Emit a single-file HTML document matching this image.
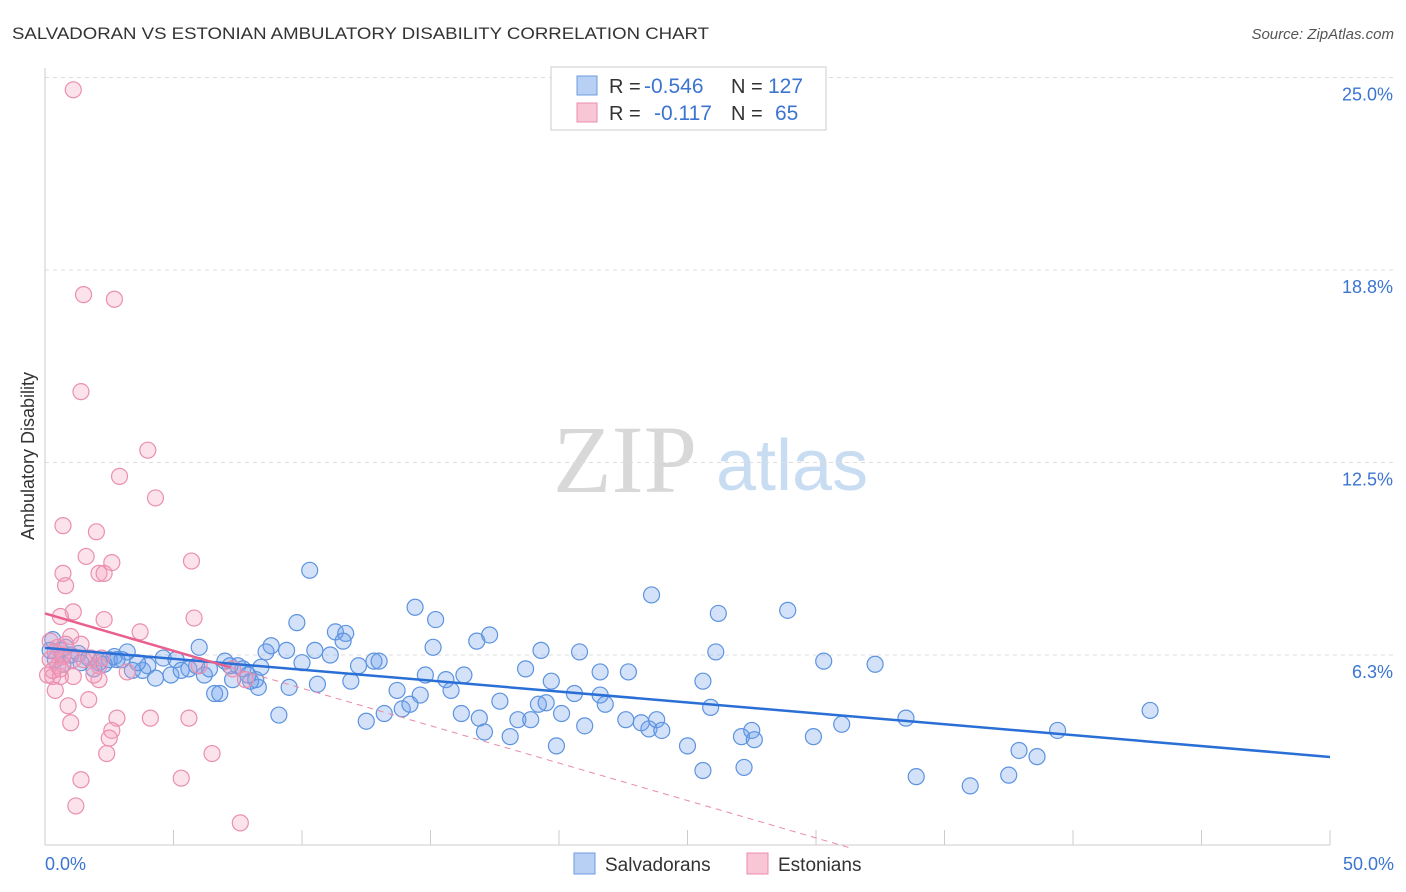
<!DOCTYPE html>
<html><head><meta charset="utf-8"><style>
body{margin:0;background:#fff;font-family:"Liberation Sans",sans-serif;}
svg{display:block}
</style></head><body>
<svg id="chart" width="1406" height="892" xmlns="http://www.w3.org/2000/svg">
<text x="12" y="39" font-size="17" fill="#333" textLength="697" lengthAdjust="spacingAndGlyphs">SALVADORAN VS ESTONIAN AMBULATORY DISABILITY CORRELATION CHART</text>
<text x="1394" y="39" font-size="15" fill="#555" text-anchor="end" font-style="italic">Source: ZipAtlas.com</text>
<g>
<text x="553" y="492" font-family="Liberation Serif,serif" font-size="96" fill="#d8d8d8">ZIP</text>
<text x="716" y="490" font-size="72" fill="#c8dcf2">atlas</text>
</g>
<g id="grid"></g>
<g id="axes"></g>
<g id="marks"></g>
<g>
<rect x="551" y="67" width="275" height="63" fill="#fff" stroke="#ccc"/>
<rect x="577" y="76" width="20" height="19" fill="#b7d0f3" stroke="#6d9be0"/>
<rect x="577" y="103" width="20" height="19" fill="#f9c6d6" stroke="#ec8eb0"/>
<text x="609" y="93" font-size="20" fill="#333">R =</text>
<text x="644" y="93" font-size="21" fill="#3b75d1">-0.546</text>
<text x="731" y="93" font-size="20" fill="#333">N =</text>
<text x="768" y="93" font-size="21" fill="#3b75d1">127</text>
<text x="609" y="120" font-size="20" fill="#333">R =</text>
<text x="654" y="120" font-size="21" fill="#3b75d1">-0.117</text>
<text x="731" y="120" font-size="20" fill="#333">N =</text>
<text x="775" y="120" font-size="21" fill="#3b75d1">65</text>
</g>
<g>
<rect x="574" y="853" width="21" height="21" fill="#b7d0f3" stroke="#6d9be0"/>
<text x="605" y="871" font-size="19" fill="#333">Salvadorans</text>
<rect x="747" y="853" width="21" height="21" fill="#f9c6d6" stroke="#ec8eb0"/>
<text x="778" y="871" font-size="19" fill="#333">Estonians</text>
</g>
<text transform="translate(34,456) rotate(-90)" font-size="18" fill="#333" text-anchor="middle">Ambulatory Disability</text>
</svg>
<script>
const yTicks=[6.25,12.5,18.75,25];
const yTickLabels=["6.3%","12.5%","18.8%","25.0%"];
const xTickLabels=["0.0%","50.0%"];
const blueX=[10.3,14.4,15.2,23.6,26.2,28.9,9.8,11.3,11.7,17.3,16.8,15.1,19.3,20.8,26.1,30.3,32.3,6.0,8.8,9.4,10.5,11.6,11.1,12.8,12.2,13.0,18.7,21.6,22.7,14.8,16.3,15.6,11.9,13.7,15.8,14.6,20.6,19.7,21.6,21.8,17.7,25.6,25.9,9.5,10.6,8.3,9.1,12.5,13.2,13.9,14.2,16.2,16.9,17.1,18.4,18.9,19.2,19.5,20.1,21.0,18.1,19.9,22.6,23.2,23.5,23.8,24.0,25.0,25.6,27.1,27.5,27.6,27.2,29.9,31.0,33.5,33.9,36.0,37.5,37.9,38.6,39.4,43.0,0.3,0.6,1.0,1.3,1.7,2.1,2.5,2.7,3.0,3.2,3.4,3.8,4.0,4.3,4.6,4.9,5.1,5.3,5.6,5.9,6.2,6.4,6.6,6.8,7.0,7.3,7.5,7.7,8.0,8.2,8.4,8.6,0.4,0.8,1.9,2.3,2.8,0.2,0.7,1.4,3.6,7.2,7.9,10.0];
const blueY=[9.0,7.8,7.4,8.2,7.6,7.7,7.3,7.0,6.95,6.9,6.7,6.5,6.4,6.35,6.35,6.05,5.95,6.5,6.55,6.4,6.4,6.7,6.25,6.05,5.9,6.05,5.8,5.7,5.7,5.6,5.6,5.45,5.4,5.1,5.1,4.95,5.0,5.4,4.95,4.65,4.75,5.4,4.55,5.2,5.3,5.2,4.3,4.1,4.35,4.5,4.65,4.35,4.2,3.75,4.15,4.15,4.65,4.7,4.35,3.95,3.6,3.3,4.15,4.05,3.85,4.15,3.8,3.3,2.5,3.6,3.8,3.5,2.6,3.6,4.0,4.2,2.3,2.0,2.35,3.15,2.95,3.8,4.45,6.75,6.4,6.25,6.3,6.15,6.0,6.1,6.2,6.1,6.35,5.75,5.75,5.9,5.5,6.15,5.6,6.1,5.75,5.8,5.9,5.6,5.8,5.0,5.0,6.05,5.45,5.9,5.8,5.4,5.45,5.85,6.35,6.1,6.5,5.8,5.95,6.1,6.4,5.95,6.0,6.0,5.9,5.6,6.0];
const pinkX=[1.1,1.5,2.7,1.4,4.0,2.9,4.3,0.7,2.0,1.6,2.6,5.7,0.7,2.1,2.3,0.8,1.1,0.6,2.3,5.8,3.7,1.0,0.2,0.5,1.4,0.7,1.1,1.8,2.1,0.5,0.1,0.3,0.6,2.1,1.1,3.2,1.7,2.8,0.9,1.0,2.6,2.5,2.4,4.1,5.6,6.5,1.4,1.2,5.3,7.6,0.2,0.3,0.4,0.7,0.8,6.0,7.8,7.3,1.9,0.4,0.6,1.5,2.2];
const pinkY=[24.6,17.95,17.8,14.8,12.9,12.05,11.35,10.45,10.25,9.45,9.25,9.3,8.9,8.9,8.9,8.5,7.65,7.5,7.4,7.45,7.0,6.85,6.7,6.5,6.6,6.2,6.1,6.15,5.9,5.9,5.6,5.55,5.55,5.45,5.55,5.7,4.8,4.2,4.6,4.05,3.8,3.55,3.05,4.2,4.2,3.05,2.2,1.35,2.25,0.8,6.1,5.75,6.35,6.25,6.6,5.9,5.45,5.8,5.6,5.1,5.8,6.1,6.15];
const blueTrend=[6.48,2.94];
const pinkTrend=[7.6,-0.243];
const NS="http://www.w3.org/2000/svg";
const X=v=>45+v*25.7, Y=v=>847.5-v*30.8;
function mk(parent,tag,attrs){const e=document.createElementNS(NS,tag);for(const k in attrs)e.setAttribute(k,attrs[k]);document.getElementById(parent).appendChild(e);return e;}
yTicks.forEach((t,i)=>{
 const l=mk('grid','line',{x1:45,x2:1394,y1:Y(t),y2:Y(t),stroke:'#ddd','stroke-dasharray':'4,4'});
 
 
 const tx=mk('grid','text',{x:1393,y:Y(t)+23,'font-size':18,fill:'#3b75d1','text-anchor':'end'});
 tx.textContent=yTickLabels[i];
 
 
});
const ax=mk('axes','line',{x1:45,x2:45,y1:68,y2:845,stroke:'#ccc'});


const bx=mk('axes','line',{x1:45,x2:1330,y1:845,y2:845,stroke:'#ccc'});


for(let i=0;i<=10;i++){const t=mk('axes','line',{x1:X(i*5),x2:X(i*5),y1:830,y2:845,stroke:'#ccc'});
 
 }
[[0,45,'start'],[50,1394,'end']].forEach((d,i)=>{const t=mk('axes','text',{x:d[1],y:870,'font-size':18,fill:'#3b75d1','text-anchor':d[2]});t.textContent=xTickLabels[i];
 
 });
blueX.forEach((x,i)=>{const c=mk('marks','circle',{cx:X(x),cy:Y(blueY[i]),r:8,fill:'rgba(110,160,235,0.3)',stroke:'#5d93df','stroke-width':1.2});
 
 });
pinkX.forEach((x,i)=>{const c=mk('marks','circle',{cx:X(x),cy:Y(pinkY[i]),r:8,fill:'rgba(245,160,190,0.3)',stroke:'#ea8fb0','stroke-width':1.2});
 
 });
const bl=mk('marks','line',{x1:X(0),y1:Y(blueTrend[0]),x2:X(50),y2:Y(blueTrend[1]),stroke:'#2a6fd6','stroke-width':2.5});


const xe=-pinkTrend[0]/pinkTrend[1];
const pd=mk('marks','line',{x1:X(7.2),y1:Y(pinkTrend[0]+pinkTrend[1]*7.2),x2:X(xe),y2:Y(0),stroke:'#e88aa8','stroke-width':1,'stroke-dasharray':'6,5'});


const pl=mk('marks','line',{x1:X(0),y1:Y(pinkTrend[0]),x2:X(7.2),y2:Y(pinkTrend[0]+pinkTrend[1]*7.2),stroke:'#e8608e','stroke-width':2.5});


</script>
</body></html>
